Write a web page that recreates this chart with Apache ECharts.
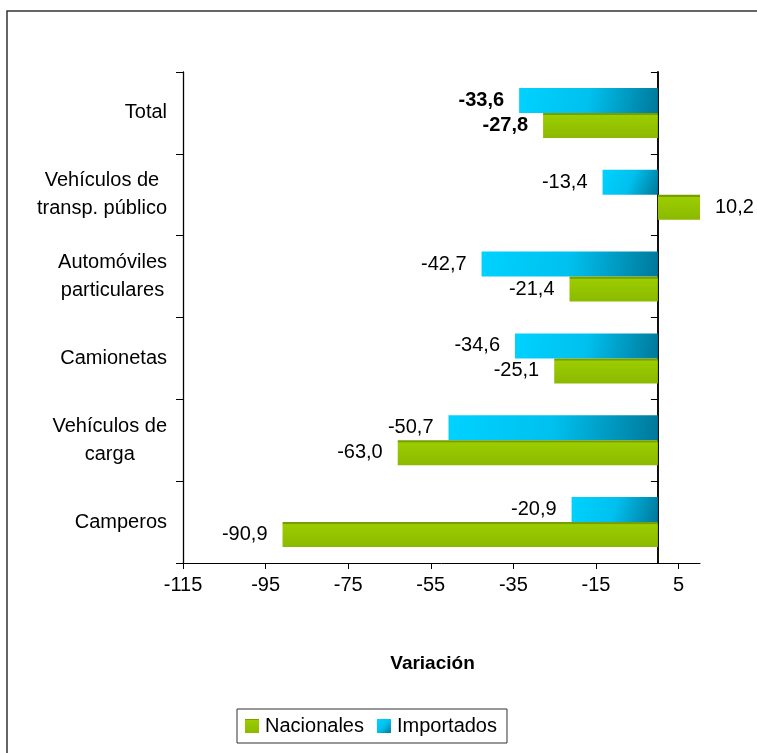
<!DOCTYPE html>
<html>
<head>
<meta charset="utf-8">
<script src="https://cdn.jsdelivr.net/npm/echarts@6/dist/echarts.min.js"></script>
<style>
  html, body { margin: 0; padding: 0; background: #fff; }
  #chart { width: 757px; height: 753px; }
</style>
</head>
<body>
<div id="chart"></div>
<script>
var categories = ['Total', 'Vehículos de\ntransp. público', 'Automóviles\nparticulares', 'Camionetas', 'Vehículos de\ncarga', 'Camperos'];
var nacionales = [-27.8, 10.2, -21.4, -25.1, -63.0, -90.9];
var importados = [-33.6, -13.4, -42.7, -34.6, -50.7, -20.9];
var xTicks = [-115, -95, -75, -55, -35, -15, 5];

var FONT = '"Liberation Sans", Arial, sans-serif';

function fmt(v) {
    return v.toFixed(1).replace('.', ',');
}

// first row (Total) gets bold labels
function barData(arr) {
    return arr.map(function (v, i) {
        return {
            value: v,
            label: {
                position: v < 0 ? 'left' : 'right',
                fontWeight: i === 0 ? 'bold' : 'normal'
            }
        };
    });
}

var greenFill = new echarts.graphic.LinearGradient(0, 0, 0, 1, [
    { offset: 0, color: '#779f00' },
    { offset: 0.07, color: '#779f00' },
    { offset: 0.1, color: '#9bcd00' },
    { offset: 1, color: '#8cb900' }
]);
var blueFill = new echarts.graphic.LinearGradient(0, 0, 1, 1, [
    { offset: 0, color: '#00d2ff' },
    { offset: 0.5, color: '#00c0ee' },
    { offset: 1, color: '#00789a' }
]);

var chart = echarts.init(document.getElementById('chart'));

var option = {
    animation: false,
    textStyle: { fontFamily: FONT },
    grid: { left: 183, right: 57, top: 72, bottom: 190, containLabel: false },
    graphic: [{
        type: 'rect',
        shape: { x: 7, y: 11, width: 800, height: 800 },
        style: { fill: 'none', stroke: '#333', lineWidth: 1.5 },
        silent: true
    }],
    legend: {
        data: ['Nacionales', 'Importados'],
        left: 237,
        top: 709,
        orient: 'horizontal',
        itemWidth: 14,
        itemHeight: 14,
        itemGap: 13,
        padding: [7, 10, 7, 8],
        borderColor: '#333',
        borderWidth: 1,
        icon: 'rect',
        textStyle: { fontSize: 20, color: '#000', fontFamily: FONT, padding: [0, 0, 0, 1] }
    },
    xAxis: {
        type: 'value',
        min: -115,
        max: 10.2,
        name: 'Variación',
        nameLocation: 'middle',
        nameGap: 91,
        nameTextStyle: { fontSize: 19, fontWeight: 'bold', color: '#000', padding: [0, 18, 0, 0] },
        axisLine: { show: true, lineStyle: { color: '#000', width: 1 } },
        axisTick: { show: true, length: 6, lineStyle: { color: '#000' }, customValues: xTicks },
        axisLabel: { fontSize: 20, color: '#000', margin: 12, customValues: xTicks },
        splitLine: { show: false }
    },
    yAxis: [{
        type: 'category',
        inverse: true,
        data: categories,
        axisLine: { onZero: false, lineStyle: { color: '#000', width: 1.3 } },
        axisTick: { show: true, length: 7, lineStyle: { color: '#000' } },
        axisLabel: {
            margin: 16,
            align: 'right',
            fontSize: 20,
            color: '#000',
            lineHeight: 28,
            formatter: function (v) {
                return v.split('\n').map(function (s) { return '{c|' + s + '}'; }).join('\n');
            },
            rich: { c: { align: 'center', fontSize: 20, lineHeight: 28, color: '#000' } }
        }
    }, {
        type: 'category',
        inverse: true,
        position: 'left',
        data: categories,
        axisLine: { onZero: true, lineStyle: { color: '#111', width: 2 } },
        axisTick: { show: true, length: 7, lineStyle: { color: '#000' } },
        axisLabel: { show: false }
    }],
    series: [{
        name: 'Importados',
        type: 'bar',
        barWidth: 25,
        barGap: '0%',
        itemStyle: { color: blueFill },
        label: {
            show: true,
            distance: 15,
            fontSize: 20,
            color: '#000',
            formatter: function (p) { return fmt(p.value); }
        },
        data: barData(importados)
    }, {
        name: 'Nacionales',
        type: 'bar',
        barWidth: 25,
        barGap: '0%',
        itemStyle: { color: greenFill },
        label: {
            show: true,
            distance: 15,
            fontSize: 20,
            color: '#000',
            formatter: function (p) { return fmt(p.value); }
        },
        data: barData(nacionales)
    }]
};

chart.setOption(option);
</script>
</body>
</html>
